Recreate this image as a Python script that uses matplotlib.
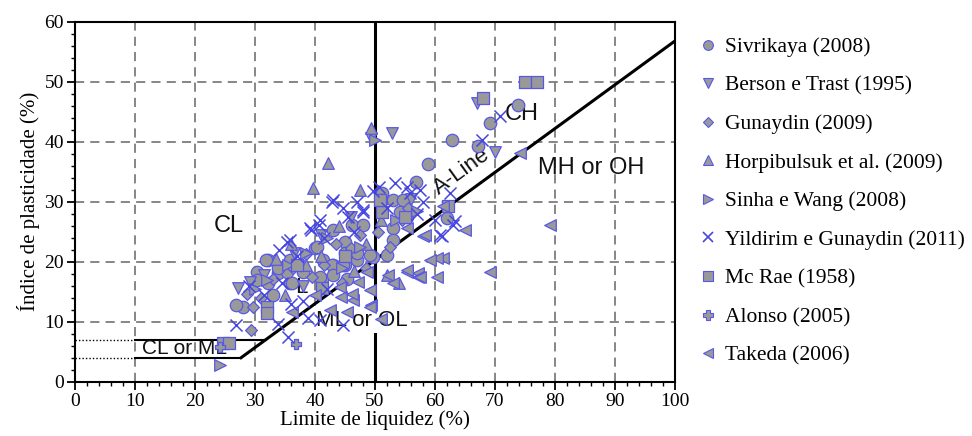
import matplotlib
matplotlib.use("Agg")
import matplotlib.pyplot as plt
import numpy as np
from matplotlib.lines import Line2D
from matplotlib.ticker import MultipleLocator

# ---------------- data ----------------
sivrikaya_ll = [73.9, 69.2, 67.2, 62.9, 58.9, 56.9, 62.0, 51.1, 51.1, 53.0, 54.7, 54.2, 53.0, 53.0, 55.3,
                43.0, 46.1, 48.0, 40.0, 45.0, 32.2, 30.3, 35.8, 37.5, 41.4, 43.0, 45.0, 47.0, 49.7, 52.0,
                33.9, 35.8, 32.2, 33.0, 28.0, 26.9, 38.0, 45.3, 41.1, 35.3, 36.1, 33.9, 40.3, 42.8, 44.7,
                40.8, 43.0, 45.0, 47.0, 49.2, 31.9, 30.3]
sivrikaya_pi = [46.1, 43.1, 39.2, 40.3, 36.3, 33.3, 27.2, 31.4, 30.3, 30.3, 30.3, 28.3, 25.6, 23.6, 27.5,
                25.3, 26.1, 26.1, 22.2, 23.3, 20.3, 18.3, 20.3, 19.4, 20.3, 19.4, 19.4, 20.3, 20.8, 21.1,
                18.1, 16.4, 16.4, 14.4, 12.5, 12.8, 18.3, 17.2, 17.2, 18.3, 16.4, 18.9, 22.5, 19.4, 19.4,
                17.5, 17.8, 21.4, 21.4, 21.1, 20.3, 16.9]

berson_ll = [27.2, 29.2, 49.4, 52.8, 67.0, 70.0, 31.5, 36.5, 41.0, 46.0, 56.0, 38.0]
berson_pi = [15.6, 16.7, 40.6, 41.4, 46.4, 38.3, 17.8, 21.5, 24.5, 27.5, 30.5, 16.0]

gunaydin_ll = [29.4, 28.6, 29.7, 33.0, 36.3, 38.5, 41.5, 43.5, 46.0, 47.5, 50.5, 52.5, 54.5, 55.5,
               48.5, 44.5, 31.0, 39.5]
gunaydin_pi = [8.6, 14.7, 12.5, 17.2, 19.0, 21.3, 19.5, 23.0, 22.3, 24.5, 25.0, 22.5, 27.0, 29.0,
               19.0, 16.5, 14.0, 17.5]

horpi_ll = [42.2, 39.7, 47.5, 49.4, 52.0, 54.0, 33.5, 36.0, 38.5, 44.0, 46.5, 48.5, 35.0, 41.0, 51.0]
horpi_pi = [36.4, 32.2, 31.9, 42.3, 17.8, 16.4, 20.5, 23.0, 19.5, 26.0, 18.5, 23.0, 14.5, 21.0, 27.0]

sinha_ll = [24.2, 50.0, 32.0, 35.5, 38.5, 42.0, 44.5, 47.5, 53.5, 57.0, 30.0]
sinha_pi = [2.8, 40.3, 17.0, 19.5, 21.5, 24.0, 19.0, 22.5, 27.0, 28.5, 15.5]

yildirim_ll = [26.9, 35.5, 38.9, 33.9, 35.3, 34.0, 39.2, 40.6, 42.8, 44.7, 48.0, 50.6, 53.3, 55.3,
               55.8, 49.7, 60.0, 63.3, 61.1, 48.0, 70.8, 67.8, 43.0, 35.8, 39.4, 40.8, 44.7, 40.8,
               60.8, 63.0, 37.0, 41.5, 45.5, 46.5, 58.0, 57.0, 31.5, 36.0, 42.0, 34.5, 29.0, 38.0,
               47.0, 52.0, 62.5, 57.5]
yildirim_pi = [9.5, 7.5, 10.6, 9.7, 23.3, 22.0, 25.6, 26.1, 30.0, 28.9, 28.6, 32.5, 33.1, 32.5,
               31.4, 31.7, 26.9, 26.7, 24.2, 28.3, 44.2, 40.3, 30.3, 23.6, 25.3, 26.9, 9.5, 10.3,
               24.4, 26.1, 21.0, 24.0, 27.5, 25.0, 30.0, 28.0, 14.5, 13.0, 15.5, 16.5, 16.0, 13.5,
               30.0, 29.0, 31.5, 32.0]

mcrae_ll = [75.0, 77.0, 68.0, 51.1, 62.2, 24.7, 25.7, 41.1, 32.0, 32.0, 50.8, 45.0, 37.0, 55.0]
mcrae_pi = [50.0, 50.0, 47.2, 28.3, 29.2, 6.4, 6.4, 15.6, 12.5, 11.4, 30.3, 21.0, 19.5, 27.5]

alonso_ll = [24.2, 36.9]
alonso_pi = [5.8, 6.3]

takeda_ll = [48.6, 52.2, 55.3, 57.2, 47.2, 49.2, 44.4, 46.4, 49.4, 45.3, 61.4, 65.0, 58.0, 55.3,
             74.2, 69.2, 61.4, 60.3, 55.3, 57.2, 60.3, 79.2, 59.2, 57.5, 58.3, 36.1, 44.2, 46.1,
             53.0, 49.2, 40.0, 42.5, 51.0]
takeda_pi = [18.3, 17.8, 18.3, 18.1, 16.7, 15.3, 14.2, 13.6, 12.8, 11.7, 29.2, 25.3, 24.2, 25.6,
             38.1, 18.3, 20.6, 20.6, 18.6, 17.5, 17.5, 26.1, 20.3, 17.5, 24.4, 11.7, 15.8, 14.7,
             16.4, 12.5, 14.5, 12.0, 10.5]

labels = ["Sivrikaya (2008)", "Berson e Trast (1995)", "Gunaydin (2009)",
          "Horpibulsuk et al. (2009)", "Sinha e Wang (2008)", "Yildirim e Gunaydin (2011)",
          "Mc Rae (1958)", "Alonso (2005)", "Takeda (2006)"]

# ---------------- style ----------------
FACE = "#999999"
EDGE = "#5858e8"
XCOL = "#4646e0"
SERIF = ["Liberation Serif", "DejaVu Serif"]
SANS = ["Liberation Sans", "DejaVu Sans"]

fig = plt.figure(figsize=(9.72, 4.36), dpi=100)
ax = fig.add_axes([75 / 972, 1 - 381.7 / 436, 600 / 972, 360 / 436])
ax.set_xlim(0, 100)
ax.set_ylim(0, 60)

# grid (dashed), skipping x=50 which is solid
for gx in range(10, 100, 10):
    if gx == 50:
        continue
    ax.axvline(gx, color="#666666", lw=1.1, ls=(0, (6, 4)), zorder=1)
for gy in range(10, 60, 10):
    ax.axhline(gy, color="#666666", lw=1.1, ls=(0, (6, 4)), zorder=1)

# classification lines
ax.axvline(50, color="black", lw=2.2, zorder=2)
a_off = 22.2
ll_a = np.array([a_off + 4 / 0.73, 100])
ax.plot(ll_a, 0.73 * (ll_a - a_off), color="black", lw=2.2, zorder=2)
ax.plot([10, a_off + 4 / 0.73], [4, 4], color="black", lw=1.5, zorder=2)
ax.plot([10, a_off + 7 / 0.73], [7, 7], color="black", lw=1.5, zorder=2)
ax.plot([0, 10], [4, 4], color="black", lw=1.0, ls=(0, (1, 1.5)), zorder=2)
ax.plot([0, 10], [7, 7], color="black", lw=1.0, ls=(0, (1, 1.5)), zorder=2)

# region labels
tkw = dict(family=SANS, ha="center", va="center", color="#111111", zorder=3)
ax.text(25.7, 26.0, "CL", fontsize=17, **tkw)
ax.text(74.4, 44.6, "CH", fontsize=17, **tkw)
ax.text(86.0, 35.7, "MH or OH", fontsize=17, **tkw)
ax.text(64.5, 35.0, "A-Line", fontsize=16, rotation=36, **tkw)
ax.text(47.75, 10.2, "ML or OL", fontsize=16,
        bbox=dict(facecolor="white", edgecolor="none", pad=1.5), **tkw)
ax.text(18.2, 5.6, "CL or ML", fontsize=15, **tkw)
ax.text(37.8, 15.7, "L", fontsize=16, **tkw)

# data series
mk = dict(facecolor=FACE, edgecolor=EDGE, linewidths=0.9, zorder=5)
ax.scatter(sivrikaya_ll, sivrikaya_pi, marker="o", s=80, **mk)
ax.scatter(berson_ll, berson_pi, marker="v", s=70, **mk)
ax.scatter(gunaydin_ll, gunaydin_pi, marker="D", s=36, **mk)
ax.scatter(horpi_ll, horpi_pi, marker="^", s=70, **mk)
ax.scatter(sinha_ll, sinha_pi, marker=">", s=70, **mk)
ax.scatter(yildirim_ll, yildirim_pi, marker="x", s=75, color=XCOL, linewidths=1.1, zorder=6)
ax.scatter(mcrae_ll, mcrae_pi, marker="s", s=80, **mk)
ax.scatter(alonso_ll, alonso_pi, marker="P", s=60, **mk)
ax.scatter(takeda_ll, takeda_pi, marker="<", s=70, **mk)

# axes styling
for sp in ax.spines.values():
    sp.set_linewidth(1.5)
ax.xaxis.set_major_locator(MultipleLocator(10))
ax.xaxis.set_minor_locator(MultipleLocator(2))
ax.yaxis.set_major_locator(MultipleLocator(10))
ax.yaxis.set_minor_locator(MultipleLocator(2))
ax.tick_params(which="major", direction="out", length=6, width=1.3, labelsize=14, pad=2)
ax.tick_params(which="minor", direction="out", length=3, width=1.0)
for t in ax.get_xticklabels() + ax.get_yticklabels():
    t.set_family(SERIF)
ax.set_xlabel("Limite de liquidez (%)", family=SERIF, fontsize=15, labelpad=0)
ax.set_ylabel("Índice de plasticidade (%)", family=SERIF, fontsize=15, labelpad=3)

# legend
hkw = dict(markerfacecolor=FACE, markeredgecolor=EDGE, markeredgewidth=0.8, ls="none")
handles = [
    Line2D([], [], marker="o", markersize=7, **hkw),
    Line2D([], [], marker="v", markersize=7, **hkw),
    Line2D([], [], marker="D", markersize=5, **hkw),
    Line2D([], [], marker="^", markersize=7, **hkw),
    Line2D([], [], marker=">", markersize=7, **hkw),
    Line2D([], [], marker="x", markersize=7, color=XCOL, markeredgewidth=1.2, ls="none"),
    Line2D([], [], marker="s", markersize=7, **hkw),
    Line2D([], [], marker="P", markersize=7, **hkw),
    Line2D([], [], marker="<", markersize=7, **hkw),
]
leg = fig.legend(handles, labels, loc="upper left", bbox_to_anchor=(698 / 972, 1 - 37 / 436),
                 frameon=False, prop={"family": SERIF, "size": 15.5}, labelspacing=0.86,
                 handlelength=0.9, handletextpad=0.35, borderaxespad=0, borderpad=0)

fig.savefig("out.png", dpi=100)
